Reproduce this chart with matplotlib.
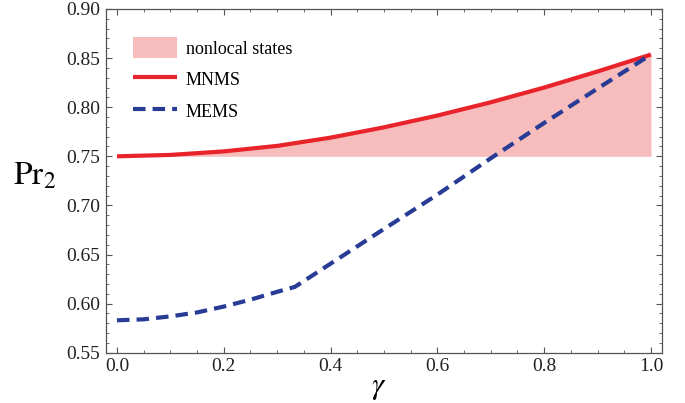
import numpy as np
import matplotlib.pyplot as plt
from matplotlib.ticker import MultipleLocator

plt.rcParams['font.family'] = ['Liberation Serif', 'DejaVu Serif']
plt.rcParams['mathtext.fontset'] = 'stix'

# MNMS curve
gamma_mnms = [0.0, 0.1, 0.2, 0.3, 0.4, 0.5, 0.6, 0.7, 0.8, 0.9, 1.0]
pr_mnms = [0.750, 0.7514, 0.755, 0.7606, 0.769, 0.7795, 0.7915, 0.805, 0.820, 0.8364, 0.8536]

# MEMS curve
gamma_mems = [0.0, 0.05, 0.1, 0.15, 0.2, 0.25, 0.3, 0.333, 0.5, 0.6, 0.7, 0.8, 0.9, 1.0]
pr_mems = [0.583, 0.584, 0.587, 0.591, 0.597, 0.604, 0.612, 0.617, 0.676, 0.711, 0.748, 0.784, 0.819, 0.8536]

local_bound = 0.75

red = '#e8232a'
blue = '#283c96'
pink = '#f7bcbc'
axcol = '#555555'

fig = plt.figure(figsize=(6.85, 4.03), dpi=100)
ax = fig.add_axes([0.1547, 0.1248, 0.8117, 0.8529])

ax.fill_between(gamma_mnms, local_bound, pr_mnms, color=pink, lw=0,
                label='nonlocal states')
ax.plot(gamma_mnms, pr_mnms, color=red, lw=3.0, label='MNMS', solid_capstyle='butt')
ax.plot(gamma_mems, pr_mems, color=blue, lw=3.0, dashes=(3.0, 1.7), label='MEMS')

ax.set_xlim(-0.0206, 1.0206)
ax.set_ylim(0.55, 0.90)
ax.xaxis.set_major_locator(MultipleLocator(0.2))
ax.xaxis.set_minor_locator(MultipleLocator(0.05))
ax.yaxis.set_major_locator(MultipleLocator(0.05))
ax.yaxis.set_minor_locator(MultipleLocator(0.01))
ax.xaxis.set_major_formatter(plt.FormatStrFormatter('%.1f'))
ax.yaxis.set_major_formatter(plt.FormatStrFormatter('%.2f'))

ax.tick_params(which='both', direction='in', top=True, right=True, color=axcol,
               labelsize=14, labelcolor='#222222')
ax.tick_params(which='major', length=4.5, width=0.8, pad=4)
ax.tick_params(which='minor', length=2.5, width=0.6)
for s in ax.spines.values():
    s.set_color(axcol)
    s.set_linewidth(0.9)

ax.set_ylabel(r'$\mathrm{Pr}_2$', fontsize=24, rotation=0, labelpad=0)
ax.yaxis.set_label_coords(-0.128, 0.47)
ax.set_xlabel(r'$\gamma$', fontsize=22, labelpad=0)
ax.xaxis.set_label_coords(0.49, -0.058)

ax.legend(loc='upper left', bbox_to_anchor=(0.02, 0.965), frameon=False,
          fontsize=13, handlelength=2.4, handleheight=1.4, labelspacing=0.6,
          handletextpad=0.5)

fig.savefig('out.png', dpi=100)
